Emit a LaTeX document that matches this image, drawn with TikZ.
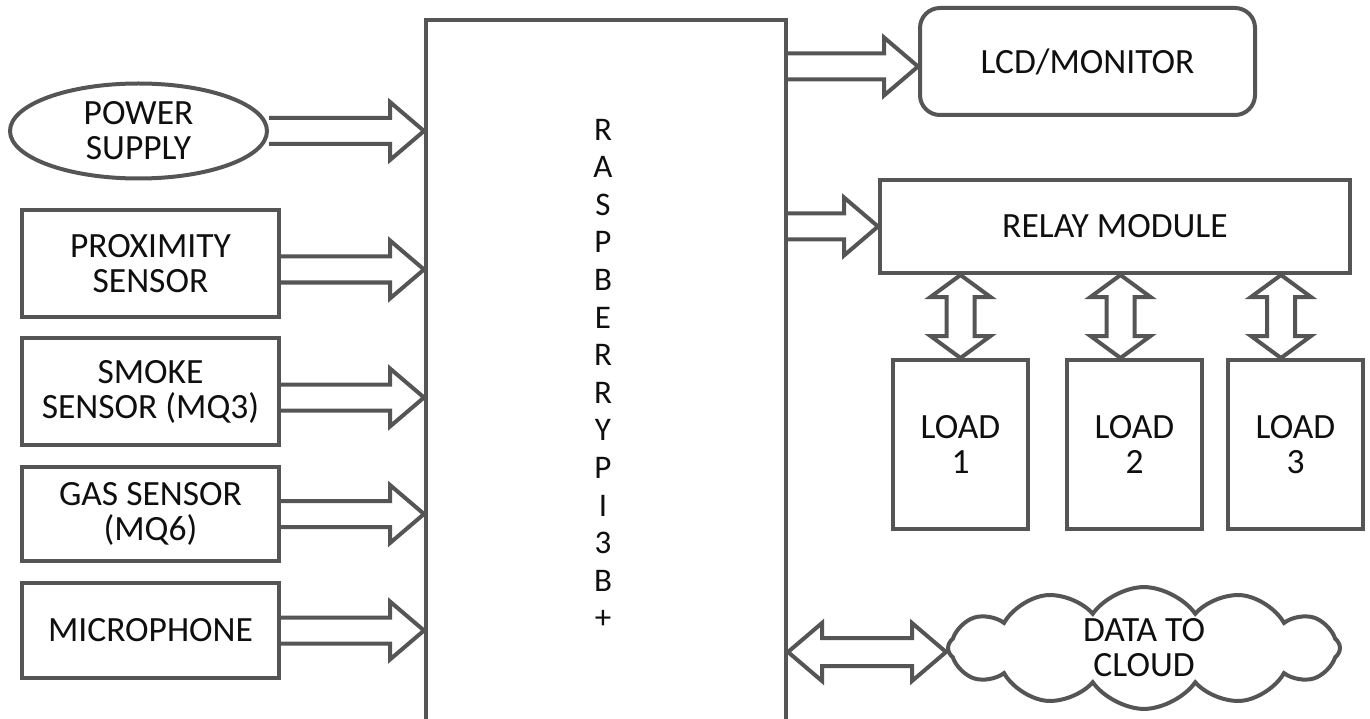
\documentclass[tikz,border=0pt]{standalone}
\usepackage{fontspec}
\setmainfont{Carlito}
\usetikzlibrary{calc,shapes.geometric,shapes.symbols}
\definecolor{lc}{RGB}{85,85,85}
\definecolor{tc}{RGB}{15,15,15}
\tikzset{
  blk/.style={draw=lc, line width=4pt, fill=white, text=tc, inner sep=0pt, align=center,
    font=\fontsize{35.5}{35}\selectfont},
  conn/.style={draw=lc, line width=4pt, line join=miter, fill=white},
}
\newcommand\rarrow[2]{\draw[conn] let \p1=(#1), \p2=(#2) in
  (\x1,\y1+13pt) -- (\x2-34pt,\y1+13pt) -- (\x2-34pt,\y1+29pt) -- (\x2,\y1)
  -- (\x2-34pt,\y1-29pt) -- (\x2-34pt,\y1-13pt) -- (\x1,\y1-13pt);}
\newcommand\hdarrow[2]{\draw[conn] let \p1=(#1), \p2=(#2) in
  (\x1,\y1) -- (\x1+34pt,\y1+29pt) -- (\x1+34pt,\y1+14pt) -- (\x2-34pt,\y1+14pt)
  -- (\x2-34pt,\y1+29pt) -- (\x2,\y1) -- (\x2-34pt,\y1-29pt) -- (\x2-34pt,\y1-14pt)
  -- (\x1+34pt,\y1-14pt) -- (\x1+34pt,\y1-29pt) -- cycle;}
\newcommand\vdarrow[2]{\draw[conn] let \p1=(#1), \p2=(#2) in
  (\x1,\y1) -- (\x1+30pt,\y1-22pt) -- (\x1+14pt,\y1-22pt) -- (\x1+14pt,\y2+22pt)
  -- (\x1+30pt,\y2+22pt) -- (\x1,\y2) -- (\x1-30pt,\y2+22pt) -- (\x1-14pt,\y2+22pt)
  -- (\x1-14pt,\y1-22pt) -- (\x1-30pt,\y1-22pt) -- cycle;}
\begin{document}
\begin{tikzpicture}[x=1pt,y=-1pt]
\useasboundingbox (0,0) rectangle (1370,719);
\clip (0,0) rectangle (1370,719);
\fill[white] (0,0) rectangle (1370,719);

% Raspberry Pi
\node[blk, minimum width=360, minimum height=740] (pi) at (606,390) {};
\node[text=tc, align=center, font=\fontsize{33}{37.6}\selectfont] (pitext) at (603,374)
  {R\\A\\S\\P\\B\\E\\R\\R\\Y\\P\\I\\3\\B\\+};

% inputs
\node[blk, ellipse, minimum width=257, minimum height=95] (psu) at (138.5,131) {POWER\\SUPPLY};
\node[blk, minimum width=257, minimum height=107] (prox) at (150.5,263.5) {PROXIMITY\\SENSOR};
\node[blk, minimum width=257, minimum height=107] (smoke) at (150.5,391.5) {SMOKE\\SENSOR (MQ3)};
\node[blk, minimum width=257, minimum height=94] (gas) at (150.5,514) {GAS SENSOR\\(MQ6)};
\node[blk, minimum width=257, minimum height=95] (mic) at (150.5,630.5) {MICROPHONE};

% outputs
\node[blk, rounded corners=20pt, minimum width=335, minimum height=107] (lcd) at (1087.5,61.5) {LCD/MONITOR};
\node[blk, minimum width=470, minimum height=93] (relay) at (1115,226.5) {RELAY MODULE};
\node[blk, minimum width=135, minimum height=169] (load1) at (960.5,444.5) {LOAD\\1};
\node[blk, minimum width=135, minimum height=169] (load2) at (1134.5,444.5) {LOAD\\2};
\node[blk, minimum width=135, minimum height=169] (load3) at (1295.5,444.5) {LOAD\\3};
\node[blk, cloud, cloud puffs=12, cloud puff arc=110, aspect=3.8,
  minimum width=392, minimum height=100] (cloudn) at (1144,648) {DATA TO\\CLOUD};

% connection points
\coordinate (psuout) at (psu.east);
\coordinate (proxout) at ([yshift=-6pt]prox.east);
\coordinate (smokeout) at ([yshift=-6pt]smoke.east);
\coordinate (gasout) at (gas.east);
\coordinate (micout) at (mic.east);
\coordinate (lcdin) at ([yshift=-5pt]lcd.west);
\coordinate (relayin) at (relay.west);
\coordinate (l1in) at (load1.north);
\coordinate (l2in) at ([xshift=-14pt]load2.north);
\coordinate (l3in) at ([xshift=-14.5pt]load3.north);
\coordinate (cloudin) at ([yshift=-4pt]cloudn.west);

\rarrow{psuout}{pi.west |- psuout}
\rarrow{proxout}{pi.west |- proxout}
\rarrow{smokeout}{pi.west |- smokeout}
\rarrow{gasout}{pi.west |- gasout}
\rarrow{micout}{pi.west |- micout}
\rarrow{pi.east |- lcdin}{lcdin}
\rarrow{pi.east |- relayin}{relayin}
\vdarrow{relay.south -| l1in}{l1in}
\vdarrow{relay.south -| l2in}{l2in}
\vdarrow{relay.south -| l3in}{l3in}
\hdarrow{pi.east |- cloudin}{cloudin}
\end{tikzpicture}
\end{document}
